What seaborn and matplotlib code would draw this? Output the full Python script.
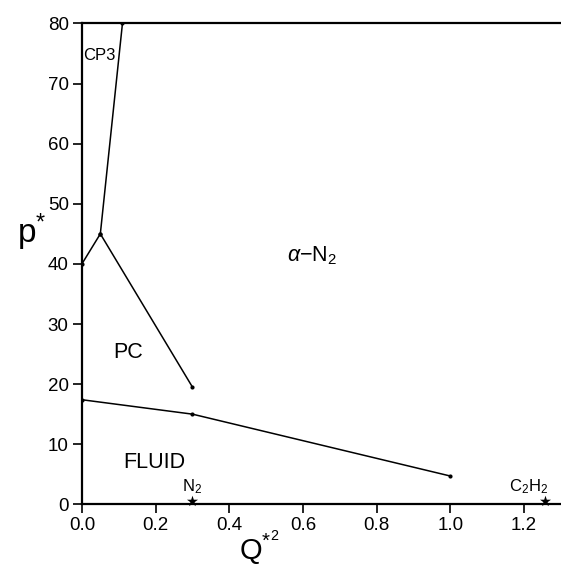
import matplotlib
matplotlib.use("Agg")
import matplotlib.pyplot as plt
import seaborn as sns
import numpy as np

# Data
cp3_q = [0.0, 0.05, 0.11]
cp3_p = [40.0, 45.0, 80.0]
pc_q = [0.05, 0.30]
pc_p = [45.0, 19.5]
fluid_q = [0.0, 0.30, 1.00]
fluid_p = [17.4, 15.0, 4.7]
mol_names = ["N$_2$", "C$_2$H$_2$"]
mol_q = [0.30, 1.257]
mol_p = [0.5, 0.5]
region_labels = ["CP3", r"$\alpha$$-$N$_2$", "PC", "FLUID"]
region_q = [0.047, 0.625, 0.125, 0.197]
region_p = [74.6, 41.4, 25.3, 7.0]
x_ticks = [0.0, 0.2, 0.4, 0.6, 0.8, 1.0, 1.2]
y_ticks = [0, 10, 20, 30, 40, 50, 60, 70, 80]

sns.set_theme(style="ticks")
plt.rcParams['font.family'] = ['Liberation Sans', 'DejaVu Sans']
plt.rcParams['mathtext.fontset'] = 'custom'
plt.rcParams['mathtext.rm'] = 'Liberation Sans'
plt.rcParams['mathtext.it'] = 'Liberation Sans:italic'

fig = plt.figure(figsize=(5.61, 5.69), dpi=100)
ax = fig.add_axes([0.146, 0.1137, 0.854, 0.845])

for q, p in [(cp3_q, cp3_p), (pc_q, pc_p), (fluid_q, fluid_p)]:
    sns.lineplot(x=q, y=p, sort=False, ax=ax, color="black", linewidth=1.1,
                 marker="o", markersize=3, markeredgewidth=0)

sns.scatterplot(x=mol_q, y=mol_p, ax=ax, color="black", marker="*", s=70,
                linewidth=0, clip_on=False, zorder=5)

for name, q in zip(mol_names, mol_q):
    ax.text(q - 0.045 if name.startswith("C") else q, 2.9, name, ha="center", va="center",
            fontsize=12, color="black")

for lab, q, p in zip(region_labels, region_q, region_p):
    fs = 12 if lab == "CP3" else 15.5
    ax.text(q, p, lab, ha="center", va="center", fontsize=fs, color="black")

ax.set_xlim(0, 1.3)
ax.set_ylim(0, 80)
ax.set_xticks(x_ticks)
ax.set_xticklabels([f"{v:.1f}" for v in x_ticks])
ax.set_yticks(y_ticks)
ax.tick_params(axis="both", direction="out", length=6.5, width=1.2, labelsize=13.5,
               colors="black", pad=3)

for side in ["left", "bottom", "top"]:
    ax.spines[side].set_linewidth(1.6)
    ax.spines[side].set_color("black")
ax.spines["right"].set_visible(False)

ax.set_ylabel(r"p$^{*}$", fontsize=24, rotation=0, color="black", va="center", ha="center")
ax.yaxis.set_label_coords(-0.105, 0.566)
ax.set_xlabel(r"Q$^{*^2}$", fontsize=21, color="black")
ax.xaxis.set_label_coords(0.37, -0.05)

fig.savefig("out.png", dpi=100)
